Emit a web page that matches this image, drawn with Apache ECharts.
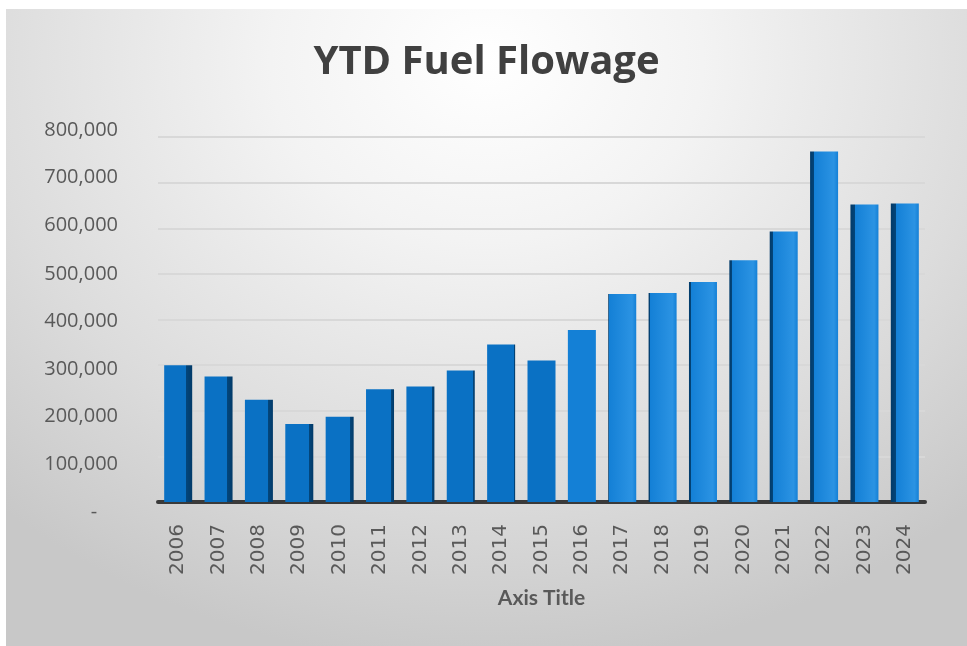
<!DOCTYPE html>
<html>
<head>
<meta charset="utf-8">
<script src="https://cdn.jsdelivr.net/npm/echarts@6/dist/echarts.min.js"></script>
<style>
  html, body { margin: 0; padding: 0; background: #ffffff; width: 967px; height: 646px; overflow: hidden; }
  #chart {
    position: absolute; left: 6px; top: 9px; width: 961px; height: 637px;
    background: radial-gradient(ellipse 75% 95% at 50% 8%, #ffffff 0%, #f3f3f3 30%, #dcdcdc 70%, #c8c8c8 100%);
  }
</style>
</head>
<body>
<div id="chart"></div>
<script>
const categories = ['2006','2007','2008','2009','2010','2011','2012','2013','2014','2015','2016','2017','2018','2019','2020','2021','2022','2023','2024'];
const fuelFlowage = [300000, 275000, 224000, 171000, 187000, 247000, 253000, 288000, 345000, 310000, 377000, 456000, 458000, 482000, 530000, 593000, 768000, 652000, 654000];
const yTicks = [0, 100000, 200000, 300000, 400000, 500000, 600000, 700000, 800000];

const chart = echarts.init(document.getElementById('chart'));
const n = categories.length;
const mid = (n - 1) / 2 + 0.5;

function barColor(params) {
  const i = params.dataIndex;
  const d = (i - mid) / mid;
  const frac = Math.min(0.24, Math.abs(d) * 0.22);
  const front = i >= 10 ? '#1480d6' : '#0a71c4';
  const side = '#03467c';
  if (frac < 0.02) return front;
  if (d < 0) {
    return new echarts.graphic.LinearGradient(0, 0, 1, 0, [
      { offset: 0, color: front }, { offset: 1 - frac, color: front },
      { offset: 1 - frac + 0.001, color: side }, { offset: 1, color: '#023a68' }
    ]);
  }
  return new echarts.graphic.LinearGradient(0, 0, 1, 0, [
    { offset: 0, color: '#023a68' }, { offset: frac - 0.001, color: side },
    { offset: frac, color: front }, { offset: 0.85, color: '#2b93e3' }, { offset: 1, color: front }
  ]);
}

// label styles: the value labels sit on the chart's front wall, so they spread a little wider than the back-wall gridlines
const labelRich = {};
yTicks.forEach((v, k) => {
  const off = Math.round(10 - k * 2.1);
  labelRich['s' + k] = {
    fontFamily: 'Open Sans', fontSize: 20, color: '#595959',
    padding: off >= 0 ? [2 * off, 0, 0, 0] : [0, 0, -2 * off, 0]
  };
});

chart.setOption({
  backgroundColor: 'transparent',
  animation: false,
  title: {
    text: 'YTD Fuel Flowage',
    left: 'center',
    top: 29,
    textStyle: { fontFamily: 'Open Sans', fontWeight: 'bold', fontSize: 40, color: '#404040' }
  },
  grid: { left: 152, right: 42, top: 128, bottom: 144, containLabel: false },
  xAxis: {
    type: 'category',
    data: categories,
    name: 'Axis Title',
    nameLocation: 'middle',
    nameGap: 86,
    nameTextStyle: { fontFamily: 'Lato', fontWeight: 'bold', fontSize: 21, color: '#595959' },
    axisLine: { show: true, lineStyle: { color: '#3a3a3a', width: 4 } },
    axisTick: { show: false },
    axisLabel: { rotate: 90, interval: 0, margin: 22, fontFamily: 'DejaVu Sans', fontSize: 20, color: '#595959' }
  },
  yAxis: {
    type: 'value',
    min: yTicks[0],
    max: yTicks[yTicks.length - 1],
    interval: yTicks[1] - yTicks[0],
    axisLine: { show: false },
    axisTick: { show: false },
    splitLine: { lineStyle: { color: '#d8d8d8', width: 2 } },
    axisLabel: {
      margin: 40,
      rich: labelRich,
      formatter: v => {
        const k = yTicks.indexOf(v);
        return '{s' + k + '|' + (v === 0 ? '-    ' : v.toLocaleString('en-US')) + '}';
      }
    }
  },
  series: [{
    type: 'bar',
    data: fuelFlowage,
    barWidth: 28,
    itemStyle: { color: barColor }
  }]
});
</script>
</body>
</html>
